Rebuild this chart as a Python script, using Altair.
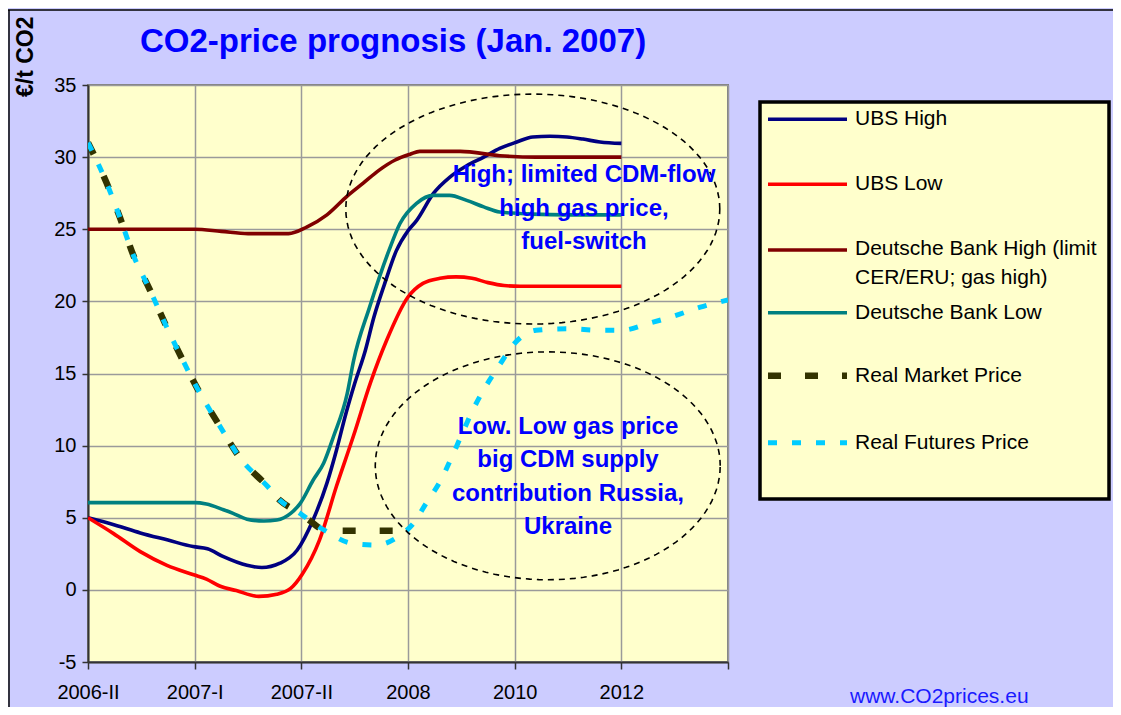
import json
import numpy as np
import pandas as pd
import altair as alt

# ---------------- data ----------------
# x positions: 0=2006-II, 1=2007-I, 2=2007-II, 3=2008, 4=2010, 5=2012, 6=end of axis
x_labels = ["2006-II", "2007-I", "2007-II", "2008", "2010", "2012", ""]
y_ticks = [-5, 0, 5, 10, 15, 20, 25, 30, 35]

ubs_high_x = [0, 0.25, 0.49, 0.75, 0.985, 1.12, 1.27, 1.49, 1.63, 1.8, 1.96, 2.11, 2.24, 2.33,
              2.41, 2.5, 2.6, 2.68, 2.78, 2.89, 3.0, 3.08, 3.24, 3.39, 3.55, 3.71, 3.86, 4.02,
              4.17, 4.33, 4.49, 4.64, 4.8, 5.0]
ubs_high_y = [5.0, 4.5, 3.95, 3.45, 3.0, 2.85, 2.3, 1.7, 1.55, 1.85, 2.75, 4.85, 7.4, 9.7,
              12.0, 14.3, 16.6, 18.9, 21.2, 23.5, 24.9, 25.6, 27.5, 28.6, 29.4, 30.0, 30.6, 31.05,
              31.4, 31.45, 31.4, 31.25, 31.05, 30.95]

ubs_low_x = [0, 0.24, 0.49, 0.74, 0.99, 1.11, 1.24, 1.39, 1.6, 1.77, 1.9, 2.01, 2.17, 2.33,
             2.49, 2.65, 2.8, 3.0, 3.14, 3.3, 3.45, 3.6, 3.75, 3.9, 4.05, 4.5, 5.0]
ubs_low_y = [5.0, 3.9, 2.65, 1.7, 1.05, 0.75, 0.25, -0.05, -0.45, -0.3, 0.1, 1.1, 3.45, 7.2,
             10.7, 14.4, 17.3, 20.3, 21.25, 21.6, 21.7, 21.6, 21.3, 21.1, 21.05, 21.05, 21.05]

db_high_x = [0, 0.5, 1.0, 1.25, 1.5, 1.88, 2.05, 2.24, 2.43, 2.58, 2.73, 2.88, 3.02, 3.11,
             3.49, 3.86, 4.2, 5.0]
db_high_y = [25, 25, 25, 24.85, 24.7, 24.7, 25.15, 26.0, 27.3, 28.2, 29.1, 29.8, 30.2, 30.4,
             30.4, 30.1, 30.0, 30.0]

db_low_x = [0, 0.5, 1.0, 1.11, 1.27, 1.36, 1.49, 1.65, 1.77, 1.9, 1.99, 2.11, 2.21, 2.3, 2.43,
            2.49, 2.64, 2.82, 2.925, 3.08, 3.24, 3.39, 3.55, 3.71, 3.86, 4.17, 4.49, 5.0]
db_low_y = [6.05, 6.05, 6.05, 5.95, 5.55, 5.3, 4.9, 4.77, 4.84, 5.3, 6.0, 7.6, 8.8, 10.6, 13.6,
            15.9, 19.6, 23.5, 25.4, 26.8, 27.35, 27.35, 27.0, 26.55, 26.2, 26.05, 26.0, 26.0]

market_x = [0, 0.175, 0.3, 0.425, 0.58, 0.72, 0.89, 1.03, 1.24, 1.43, 1.68, 1.8, 1.99, 2.08,
            2.2, 2.33, 2.9]
market_y = [31.0, 28.2, 25.8, 23.2, 20.8, 18.5, 15.9, 13.9, 11.3, 9.1, 7.2, 6.2, 5.3, 4.8,
            4.2, 4.1, 4.1]

futures_x = [0, 0.175, 0.3, 0.425, 0.58, 0.72, 0.89, 1.03, 1.24, 1.43, 1.68, 1.8, 1.99, 2.08,
             2.24, 2.47, 2.7, 2.93, 3.05, 3.17, 3.3, 3.41, 3.5, 3.61, 3.72, 3.85, 4.0, 4.2,
             4.5, 4.8, 5.0, 5.27, 5.5, 5.74, 6.0]
futures_y = [31.0, 28.2, 25.8, 23.2, 20.8, 18.5, 15.9, 13.9, 11.3, 9.1, 7.2, 6.2, 5.3, 4.8,
             4.03, 3.23, 3.11, 3.8, 4.6, 6.0, 7.5, 9.2, 10.7, 12.5, 14.0, 15.5, 17.1, 18.0,
             18.1, 18.0, 18.0, 18.5, 19.0, 19.6, 20.1]

series_names = ["UBS High", "UBS Low", "Deutsche Bank High (limit CER/ERU; gas high)",
                "Deutsche Bank Low", "Real Market Price", "Real Futures Price"]

# annotation ellipses (centre x, centre y, radius x, radius y) in data units
ellipses = [(4.17, 26.4, 1.753, 7.97), (4.31, 8.6, 1.617, 7.9)]
note_high = "High; limited CDM-flow\nhigh gas price,\nfuel-switch"
note_low = "Low. Low gas price\nbig CDM supply\ncontribution Russia,\nUkraine"
note_x = [4.65, 4.5]
note_y = [28.76, 11.31]   # position of the first line of each note

# ---------------- styling ----------------
FONT = "Liberation Sans"
styles = {
    "UBS High": dict(color="#000080", strokeWidth=3.6),
    "UBS Low": dict(color="#FF0000", strokeWidth=3.6),
    "Deutsche Bank High (limit CER/ERU; gas high)": dict(color="#800000", strokeWidth=3.6),
    "Deutsche Bank Low": dict(color="#008080", strokeWidth=3.6),
    "Real Market Price": dict(color="#333300", strokeWidth=6.5, strokeDash=[13, 24]),
    "Real Futures Price": dict(color="#00CCFF", strokeWidth=5, strokeDash=[9, 15]),
}
series_data = {
    "UBS High": (ubs_high_x, ubs_high_y),
    "UBS Low": (ubs_low_x, ubs_low_y),
    "Deutsche Bank High (limit CER/ERU; gas high)": (db_high_x, db_high_y),
    "Deutsche Bank Low": (db_low_x, db_low_y),
    "Real Market Price": (market_x, market_y),
    "Real Futures Price": (futures_x, futures_y),
}

xscale = alt.Scale(domain=[0, 6], nice=False, zero=False)
yscale = alt.Scale(domain=[-5, 35], nice=False, zero=False)

xaxis = alt.Axis(values=list(range(7)),
                 labelExpr=json.dumps(x_labels) + "[datum.value]",
                 title=None, grid=True, gridColor="#9A9A9A", gridWidth=1.5,
                 tickSize=7, tickColor="#333333", tickWidth=1.5,
                 domainColor="#333333", domainWidth=2,
                 labelFontSize=20, labelFont=FONT, labelColor="black", labelPadding=13,
                 labelFlush=False, labelOverlap=False)
yaxis = alt.Axis(values=y_ticks, labelExpr="datum.value + ''",
                 title=None, grid=True, gridColor="#9A9A9A", gridWidth=1.5,
                 tickSize=6, tickColor="#333333", tickWidth=1.5,
                 domainColor="#333333", domainWidth=2,
                 labelFontSize=20, labelFont=FONT, labelColor="black", labelPadding=6,
                 labelFlush=False, labelOverlap=False)

X = lambda f: alt.X(f, scale=xscale, axis=xaxis)
Y = lambda f: alt.Y(f, scale=yscale, axis=yaxis)

layers = []
for name in series_names:
    xs, ys = series_data[name]
    df = pd.DataFrame({"x": xs, "y": ys, "series": name})
    layers.append(
        alt.Chart(df).mark_line(interpolate="monotone", clip=True, **styles[name]).encode(
            x=X("x:Q"), y=Y("y:Q"),
        )
    )

# dashed ellipses
t = np.linspace(0, 2 * np.pi, 121)
for (cx, cy, rx, ry) in ellipses:
    edf = pd.DataFrame({"x": cx + rx * np.cos(t), "y": cy + ry * np.sin(t), "i": np.arange(len(t))})
    layers.append(
        alt.Chart(edf).mark_line(color="black", strokeWidth=1.6, strokeDash=[6, 5]).encode(
            x=X("x:Q"), y=Y("y:Q"), order="i:Q",
        )
    )

# annotation texts
ann = pd.DataFrame({"x": note_x, "y": note_y, "t": [note_high, note_low]})
layers.append(
    alt.Chart(ann).mark_text(font=FONT, fontSize=24, fontWeight="bold", color="#0000FF",
                             lineBreak="\n", lineHeight=33.5, align="center",
                             baseline="middle").encode(
        x=X("x:Q"), y=Y("y:Q"), text="t:N",
    )
)

one = pd.DataFrame({"a": [0]})

# legend box
layers.append(
    alt.Chart(one).mark_rect(fill="#FFFFCC", stroke="black", strokeWidth=3.5).encode(
        x=alt.value(672), x2=alt.value(1021), y=alt.value(17), y2=alt.value(414)
    )
)
legend_rows = [34.3, 99.3, 165, 227.7, 290.7, 357.7]
for name, ry in zip(series_names, legend_rows):
    st = dict(styles[name])
    layers.append(
        alt.Chart(one).mark_rule(**st).encode(
            x=alt.value(680), x2=alt.value(759), y=alt.value(ry)
        )
    )
legend_texts = [("UBS High", 34.3), ("UBS Low", 99.3), ("Deutsche Bank High (limit", 163.5),
                ("CER/ERU; gas high)", 192.5), ("Deutsche Bank Low", 227.7),
                ("Real Market Price", 290.7), ("Real Futures Price", 357.7)]
for txt, ty in legend_texts:
    layers.append(
        alt.Chart(one).mark_text(font=FONT, fontSize=21, color="black", align="left",
                                 baseline="middle", limit=250).encode(
            x=alt.value(767), y=alt.value(ty), text=alt.value(txt)
        )
    )

# title, axis title, watermark
layers.append(
    alt.Chart(one).mark_text(font=FONT, fontSize=33, fontWeight="bold", color="#0000FF",
                             align="left", baseline="middle").encode(
        x=alt.value(52), y=alt.value(-43), text=alt.value("CO2-price prognosis (Jan. 2007)")
    )
)
layers.append(
    alt.Chart(one).mark_text(font=FONT, fontSize=23, fontWeight="bold", color="black",
                             align="left", baseline="middle", angle=270).encode(
        x=alt.value(-62), y=alt.value(12), text=alt.value("€/t CO2")
    )
)
layers.append(
    alt.Chart(one).mark_text(font=FONT, fontSize=21, color="#1A1AFF",
                             align="left", baseline="middle").encode(
        x=alt.value(762), y=alt.value(612), text=alt.value("www.CO2prices.eu")
    )
)
# outer frame lines
layers.append(
    alt.Chart(one).mark_rule(color="black", strokeWidth=1.5).encode(
        x=alt.value(-80), x2=alt.value(1025), y=alt.value(-75)
    )
)
layers.append(
    alt.Chart(one).mark_rule(color="black", strokeWidth=1.5).encode(
        x=alt.value(-79), y=alt.value(-75), y2=alt.value(622)
    )
)

chart = alt.layer(*layers).properties(
    width=640, height=577,
    autosize=alt.AutoSizeParams(type="none"),
    padding={"left": 80, "top": 77, "right": 385, "bottom": 45},
).configure(background="#CCCCFF", font=FONT).configure_view(
    fill="#FFFFCC", stroke="#808080", strokeWidth=2
)

chart.save("out.html", embed_options={"renderer": "svg", "actions": False})
